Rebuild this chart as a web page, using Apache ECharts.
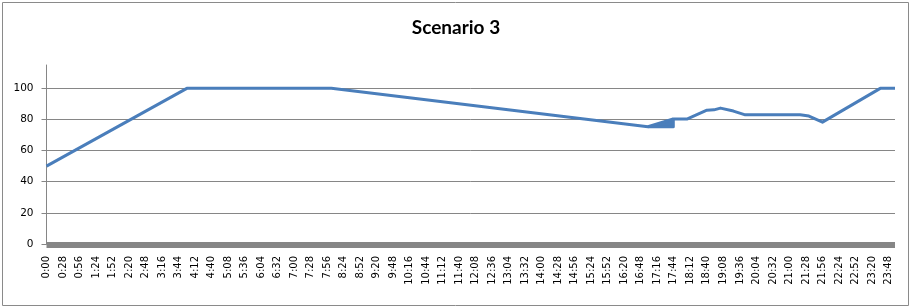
<!DOCTYPE html>
<html>
<head>
<meta charset="utf-8">
<script src="https://cdn.jsdelivr.net/npm/echarts@6/dist/echarts.min.js"></script>
<style>
html,body{margin:0;padding:0;background:#fff;}
#chart{width:912px;height:308px;}
</style>
</head>
<body>
<div id="chart"></div>
<script>
// Tick labels on the time axis (every 28 minutes)
var timeTickLabels = ['0:00','0:28','0:56','1:24','1:52','2:20','2:48','3:16','3:44','4:12','4:40','5:08','5:36','6:04','6:32','7:00','7:28','7:56','8:24','8:52','9:20','9:48','10:16','10:44','11:12','11:40','12:08','12:36','13:04','13:32','14:00','14:28','14:56','15:24','15:52','16:20','16:48','17:16','17:44','18:12','18:40','19:08','19:36','20:04','20:32','21:00','21:28','21:56','22:24','22:52','23:20','23:48'];
var tickStepMinutes = 28;
var yTickValues = [0, 20, 40, 60, 80, 100];

// Main series: minutes after midnight and value
var lineMinutes = [0, 238, 483, 1020, 1063, 1063, 1086, 1120, 1132, 1143, 1165, 1185, 1278, 1293, 1316, 1414, 1439];
var lineValues  = [50, 100, 100, 75.3, 75.3, 80.3, 80.3, 86, 86.2, 87.3, 85.4, 83, 83, 82.2, 78.3, 100, 100];

// Rapid oscillation band around 17:00-17:43 (drawn as filled region)
var bandMinutes = [1020, 1063];
var bandValues  = [75.3, 80.3];
var bandBase = 75.3;

function pairs(xs, ys){ return xs.map(function(x,i){ return [x, ys[i]]; }); }

var chart = echarts.init(document.getElementById('chart'), null, {renderer:'canvas'});
var blue = '#4a7ebb';
chart.setOption({
  animation: false,
  backgroundColor: '#fff',
  title: {
    text: 'Scenario 3',
    left: 'center',
    top: 13,
    textStyle: {fontFamily: 'Lato', fontWeight: 'bold', fontSize: 19, color: '#000'}
  },
  graphic: [{
    type: 'rect',
    shape: {x: 2.5, y: 2.5, width: 906, height: 303},
    style: {fill: 'none', stroke: '#8a8a8a', lineWidth: 1},
    silent: true
  }],
  grid: {left: 46.5, right: 17, top: 65, bottom: 64, containLabel: false},
  xAxis: {
    type: 'value',
    min: 0,
    max: 1439,
    interval: tickStepMinutes,
    offset: 1,
    axisLine: {show: true, onZero: false, lineStyle: {color: '#868686', width: 6, cap: 'butt'}},
    axisTick: {show: false},
    splitLine: {show: false},
    axisLabel: {
      rotate: 90,
      margin: 11,
      showMaxLabel: false,
      fontFamily: 'DejaVu Sans',
      fontSize: 10,
      color: '#000',
      formatter: function(v){ var i = Math.round(v / tickStepMinutes); return (v % tickStepMinutes === 0 && timeTickLabels[i]) ? timeTickLabels[i] : ''; }
    }
  },
  yAxis: {
    type: 'value',
    min: 0,
    max: 115,
    interval: 20,
    axisLine: {show: true, lineStyle: {color: '#868686', width: 1}},
    axisTick: {show: true, length: 5, customValues: yTickValues, lineStyle: {color: '#868686'}},
    splitLine: {show: true, lineStyle: {color: '#868686', width: 1}},
    axisLabel: {
      customValues: yTickValues,
      margin: 13,
      fontFamily: 'DejaVu Sans',
      fontSize: 10.5,
      color: '#000'
    }
  },
  series: [{
    type: 'line',
    data: pairs(bandMinutes, bandValues),
    showSymbol: false,
    lineStyle: {color: blue, width: 3},
    areaStyle: {color: blue, opacity: 1, origin: bandBase},
    z: 3
  }, {
    type: 'line',
    data: pairs(lineMinutes, lineValues),
    showSymbol: false,
    lineStyle: {color: blue, width: 3, join: 'round'},
    z: 4
  }]
});
</script>
</body>
</html>
